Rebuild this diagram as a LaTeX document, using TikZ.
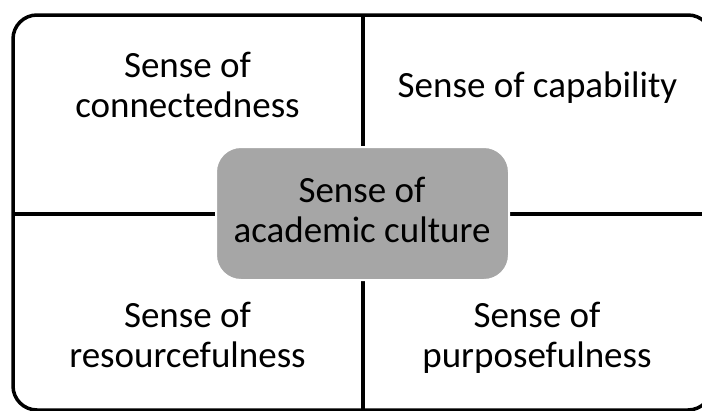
\documentclass[tikz,border=0pt]{standalone}
\usepackage{fontspec}
\setmainfont{Carlito}
\begin{document}
\begin{tikzpicture}[x=1pt,y=-1pt,line width=3.5pt,
  every node/.style={font=\fontsize{37}{39.5}\selectfont,align=center,inner sep=0pt}]
\clip (0,0) rectangle (702,410);
% frame and the two dividers
\draw[rounded corners=24pt] (13,15) rectangle (712,410);
\coordinate (top) at (363,15);
\coordinate (bottom) at (363,410);
\coordinate (left) at (13,214);
\coordinate (right) at (712,214);
\draw (top) -- (bottom);
\draw (left) -- (right);
\node[fill=black!35,draw=white,line width=2pt,rounded corners=25pt,
  minimum width=293pt,minimum height=133pt] (academic) at (362.5,213.5) {};
\node[anchor=base] (culture) at (362,242) {Sense of\\academic culture};
\node[anchor=base] (connected) at (187.5,117) {Sense of\\connectedness};
\node[anchor=base] (capable) at (537.5,97) {Sense of capability};
\node[anchor=base] (resourceful) at (187.5,367) {Sense of\\resourcefulness};
\node[anchor=base] (purposeful) at (537,367) {Sense of\\purposefulness};
\end{tikzpicture}
\end{document}
